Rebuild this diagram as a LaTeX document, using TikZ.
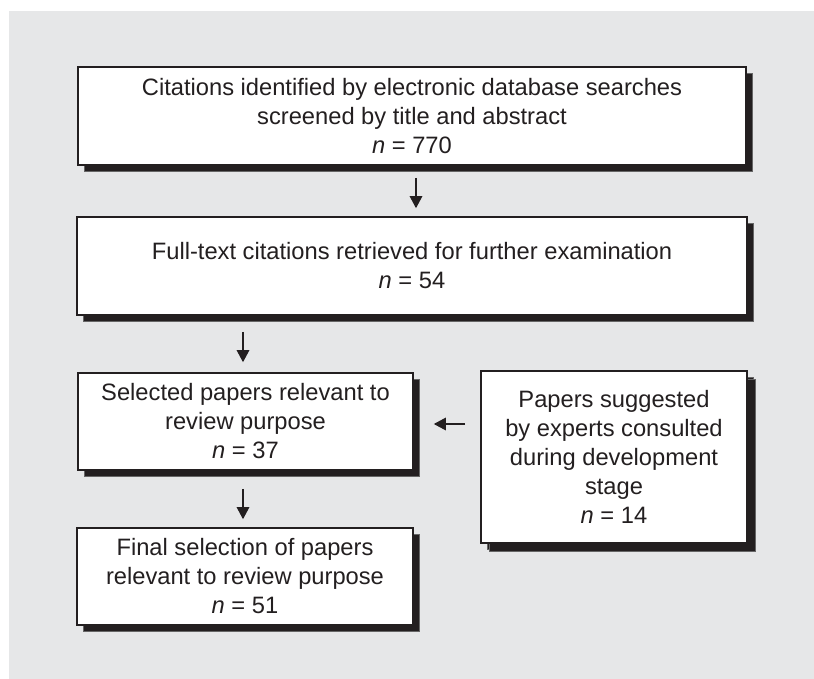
\documentclass[tikz,border=0pt]{standalone}
\usepackage{fontspec}
\setmainfont{Liberation Sans}
\usetikzlibrary{arrows.meta,calc,shadows}
\definecolor{bg}{HTML}{E6E7E8}
\definecolor{ink}{HTML}{231F20}
\begin{document}
\begin{tikzpicture}[x=1pt,y=-1pt,
  box/.style={draw=ink,line width=1.6pt,fill=white,align=center,inner sep=0pt,text=ink,
    font=\fontsize{23.7}{29}\selectfont,
    drop shadow={shadow xshift=6.5pt,shadow yshift=-6.5pt,fill=ink,opacity=1,draw=black!60,line width=0.6pt}},
  bigbox/.style={box,drop shadow={shadow xshift=8pt,shadow yshift=-8pt,fill=ink,opacity=1,draw=black!60,line width=0.6pt}},
  arr/.style={draw=ink,line width=1.3pt,-{Triangle[width=12.5pt,length=12pt]}}]
\useasboundingbox (0,0) rectangle (814,679);
\fill[bg] (9,11) rectangle (814,679);
\node[box,minimum width=668pt,minimum height=98pt] (b1) at (412,116)
  {Citations identified by electronic database searches\\screened by title and abstract\\\textit{n} = 770};
\node[box,minimum width=670pt,minimum height=98pt] (b2) at (412,266)
  {Full-text citations retrieved for further examination\\\textit{n} = 54};
\node[box,minimum width=335pt,minimum height=97pt] (b3) at (245.5,421.5)
  {Selected papers relevant to\\review purpose\\\textit{n} = 37};
\node[box,minimum width=336pt,minimum height=97pt] (b4) at (245,576.5)
  {Final selection of papers\\relevant to review purpose\\\textit{n} = 51};
\node[bigbox,minimum width=266pt,minimum height=172pt] (b5) at (614,457)
  {Papers suggested\\by experts consulted\\during development\\stage\\\textit{n} = 14};
\draw[arr] ($(b1.south)+(4,12)$) -- ($(b2.north)+(4,-8)$);
\draw[arr] ($(b3.north |- b2.south)+(-2.5,16)$) -- ($(b3.north)+(-2.5,-10)$);
\draw[arr] ($(b3.south)+(-2.5,18)$) -- ($(b4.north)+(-2,-8)$);
\draw[arr] ($(b5.west |- b3.east)+(-15,2.5)$) -- ($(b3.east)+(20,2.5)$);
\end{tikzpicture}
\end{document}
